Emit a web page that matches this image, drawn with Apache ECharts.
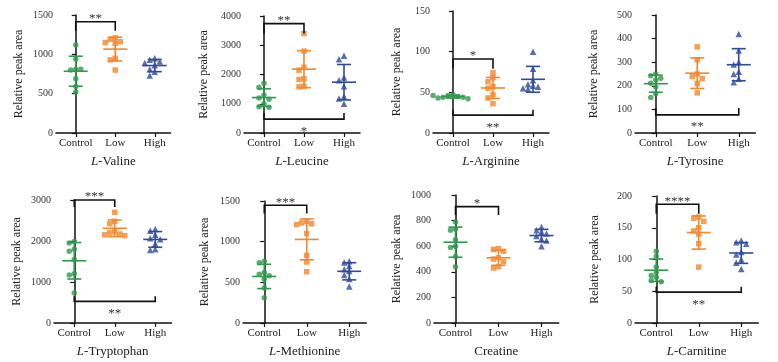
<!DOCTYPE html>
<html>
<head>
<meta charset="utf-8">
<script src="https://cdn.jsdelivr.net/npm/echarts@6/dist/echarts.min.js"></script>
<style>
html, body { margin: 0; padding: 0; background: #fff; }
#chart { width: 778px; height: 362px; }
</style>
</head>
<body>
<div id="chart"></div>
<script>
const categories = ['Control', 'Low', 'High'];
const groupColors = ['#2f9a4c', '#f5862a', '#2f4b9b'];
const groupSymbols = ['circle', 'rect', 'triangle'];

// 图标题 (L- 前缀用斜体)
const titles = ['Valine', 'Leucine', 'Arginine', 'Tyrosine', 'Tryptophan', 'Methionine', 'Creatine', 'Carnitine'];
const italicL = [true, true, true, true, true, true, false, true];
const yMax = [1500, 4000, 150, 500, 3000, 1500, 1000, 200];
const yStep = [500, 1000, 50, 100, 1000, 500, 200, 50];

// 各组数据
const valineControl = [1120, 940, 810, 800, 810, 690, 590, 520];
const valineLow = [1210, 1190, 1160, 1150, 1140, 950, 930, 800];
const valineHigh = [950, 930, 910, 890, 860, 810, 780, 730];

const leucineControl = [1700, 1560, 1300, 1200, 1150, 1000, 900, 880];
const leucineLow = [3400, 2800, 2250, 2150, 1850, 1830, 1600, 1580];
const leucineHigh = [2640, 2520, 1900, 1800, 1600, 1250, 1180, 1000];

const arginineControl = [47, 46, 45, 44, 44, 43, 42, 46];
const arginineLow = [74, 68, 63, 57, 55, 47, 43, 36];
const arginineHigh = [100, 79, 65, 60, 58, 57, 55, 54];

const tyrosineControl = [250, 243, 232, 225, 211, 195, 166, 150];
const tyrosineLow = [365, 310, 250, 240, 230, 210, 170];
const tyrosineHigh = [420, 350, 300, 290, 260, 250, 230, 215];

const tryptophanControl = [1990, 1950, 1800, 1750, 1550, 1200, 1170, 730];
const tryptophanLow = [2700, 2480, 2420, 2230, 2200, 2170, 2150, 2130];
const tryptophanHigh = [2290, 2250, 2150, 2070, 2040, 1930, 1800, 1780];

const methionineControl = [760, 740, 620, 600, 580, 540, 430, 310];
const methionineLow = [1250, 1230, 1220, 1210, 1100, 830, 750, 630];
const methionineHigh = [760, 745, 700, 660, 640, 590, 540, 450];

const creatineControl = [790, 735, 725, 650, 600, 590, 520, 440];
const creatineLow = [580, 575, 560, 510, 500, 480, 440, 430];
const creatineHigh = [750, 725, 710, 700, 680, 655, 645, 600];

const carnitineControl = [113, 105, 88, 80, 75, 72, 67, 65];
const carnitineLow = [167, 165, 160, 150, 145, 140, 125, 88];
const carnitineHigh = [130, 127, 125, 112, 108, 100, 95, 85];

// 显著性标注: [起组, 止组, 横线值, 竖脚端值, 星号]
const valineSig = [[0, 1, 1415, 1300, '**']];
const leucineSig = [[0, 1, 3740, 3400, '**'], [0, 2, 475, 680, '*']];
const arginineSig = [[0, 1, 91, 79, '*'], [0, 2, 22, 28.5, '**']];
const tyrosineSig = [[0, 2, 77, 106, '**']];
const tryptophanSig = [[0, 1, 3000, 2830, '***'], [0, 2, 527, 650, '**']];
const methionineSig = [[0, 1, 1447, 1345, '***']];
const creatineSig = [[0, 1, 909, 844, '*']];
const carnitineSig = [[0, 1, 187, 172, '****'], [0, 2, 48.6, 57, '**']];

const panelData = [
	[valineControl, valineLow, valineHigh, valineSig],
	[leucineControl, leucineLow, leucineHigh, leucineSig],
	[arginineControl, arginineLow, arginineHigh, arginineSig],
	[tyrosineControl, tyrosineLow, tyrosineHigh, tyrosineSig],
	[tryptophanControl, tryptophanLow, tryptophanHigh, tryptophanSig],
	[methionineControl, methionineLow, methionineHigh, methionineSig],
	[creatineControl, creatineLow, creatineHigh, creatineSig],
	[carnitineControl, carnitineLow, carnitineHigh, carnitineSig],
];

// 布局: [left, top, height, 组间距, y轴名距离]
const layout = [
	[56, 15, 118, 39.5, 31],
	[244, 16, 117, 40, 34],
	[433, 11, 122, 40, 30],
	[635, 15, 118, 41.5, 35],
	[54, 200, 123, 40.5, 31],
	[243, 201, 122, 42.5, 32],
	[434, 195, 128, 43, 31],
	[635, 196, 127, 42.5, 34],
];

const FONT = "'Liberation Serif', 'Times New Roman', serif";

function mean(a) { return a.reduce((s, v) => s + v, 0) / a.length; }
function sd(a) {
	const m = mean(a);
	return Math.sqrt(a.reduce((s, v) => s + (v - m) * (v - m), 0) / (a.length - 1));
}

// 简单的蜂群排布, 避免点重叠
function swarm(values, pxPerUnit, spacing) {
	const placed = [];
	const cands = [0, -5, 5, -10, 10, -15, 15, -20, 20];
	return values.map(v => {
		const py = v * pxPerUnit;
		let off = 0;
		for (const c of cands) {
			if (placed.every(p => Math.hypot(p[0] - c, p[1] - py) >= 4.8)) { off = c; break; }
		}
		placed.push([off, py]);
		return off / spacing;
	});
}

const grid = [], xAxis = [], yAxis = [], series = [];

panelData.forEach((pd, k) => {
	const [left, top, height, spacing, nameGap] = layout[k];
	grid.push({ left: left, top: top, width: spacing * 2.9, height: height });

	xAxis.push({
		gridIndex: k,
		type: 'value',
		min: -0.5,
		max: 2.4,
		name: italicL[k] ? '{i|L}-' + titles[k] : titles[k],
		nameLocation: 'middle',
		nameGap: 22,
		nameTextStyle: {
			fontFamily: FONT, fontSize: 13, color: '#222',
			rich: { i: { fontFamily: FONT, fontSize: 13, fontStyle: 'italic', color: '#222' } },
		},
		axisLine: { lineStyle: { color: '#111', width: 1.5 } },
		axisTick: { customValues: [0, 1, 2], length: 4, lineStyle: { color: '#111', width: 1.2 } },
		axisLabel: {
			customValues: [0, 1, 2],
			formatter: v => categories[v],
			fontFamily: FONT, fontSize: 11, color: '#222', margin: 5,
		},
		splitLine: { show: false },
	});

	yAxis.push({
		gridIndex: k,
		type: 'value',
		min: 0,
		max: yMax[k],
		interval: yStep[k],
		name: 'Relative peak area',
		nameLocation: 'middle',
		nameGap: nameGap,
		nameTextStyle: { fontFamily: FONT, fontSize: 12, color: '#222' },
		axisLine: { show: true, lineStyle: { color: '#111', width: 1.5 } },
		axisTick: { show: true, length: 4, lineStyle: { color: '#111', width: 1.2 } },
		axisLabel: { fontFamily: FONT, fontSize: 10, color: '#333', margin: 3, formatter: v => String(v) },
		splitLine: { show: false },
	});

	const pxPerUnit = height / yMax[k];
	const stats = [];
	for (let g = 0; g < 3; g++) {
		const vals = pd[g];
		const offs = swarm(vals, pxPerUnit, spacing);
		series.push({
			type: 'scatter',
			xAxisIndex: k, yAxisIndex: k,
			symbol: groupSymbols[g],
			symbolSize: g === 2 ? 6.5 : 5.5,
			itemStyle: { color: groupColors[g] },
			data: vals.map((v, i) => [g + offs[i], v]),
			silent: true, z: 3,
		});
		stats.push([g, mean(vals), sd(vals)]);
	}

	// 均值 ± SD
	series.push({
		type: 'custom',
		xAxisIndex: k, yAxisIndex: k,
		data: stats,
		clip: false,
		z: 4,
		renderItem: (params, api) => {
			const g = api.value(0), m = api.value(1), s = api.value(2);
			const c = api.coord([g, m]), t = api.coord([g, m + s]), b = api.coord([g, m - s]);
			const style = { stroke: groupColors[g], lineWidth: 1.6 };
			return {
				type: 'group',
				children: [
					{ type: 'line', shape: { x1: c[0] - 12, y1: c[1], x2: c[0] + 12, y2: c[1] }, style: style },
					{ type: 'line', shape: { x1: c[0], y1: t[1], x2: c[0], y2: b[1] }, style: style },
					{ type: 'line', shape: { x1: c[0] - 7, y1: t[1], x2: c[0] + 7, y2: t[1] }, style: style },
					{ type: 'line', shape: { x1: c[0] - 7, y1: b[1], x2: c[0] + 7, y2: b[1] }, style: style },
				],
			};
		},
	});

	// 显著性括号
	const sig = pd[3];
	series.push({
		type: 'custom',
		xAxisIndex: k, yAxisIndex: k,
		data: sig.map(s => s.slice(0, 4)),
		clip: false,
		z: 5,
		renderItem: (params, api) => {
			const x1 = api.value(0), x2 = api.value(1), yb = api.value(2), yl = api.value(3);
			const p1 = api.coord([x1, yl]), p2 = api.coord([x1, yb]), p3 = api.coord([x2, yb]), p4 = api.coord([x2, yl]);
			const above = yl < yb;
			return {
				type: 'group',
				children: [
					{ type: 'polyline', shape: { points: [p1, p2, p3, p4] }, style: { stroke: '#111', lineWidth: 1.6, fill: null } },
					{
						type: 'text',
						x: (p2[0] + p3[0]) / 2,
						y: above ? p2[1] - 3 : p2[1] + 12,
						style: {
							text: sig[params.dataIndex][4],
							font: '13px ' + FONT,
							fill: '#333',
							align: 'center',
							verticalAlign: 'middle',
						},
					},
				],
			};
		},
	});
});

var myChart = echarts.init(document.getElementById('chart'));
myChart.setOption({
	animation: false,
	backgroundColor: '#fff',
	grid: grid,
	xAxis: xAxis,
	yAxis: yAxis,
	series: series,
});
</script>
</body>
</html>
